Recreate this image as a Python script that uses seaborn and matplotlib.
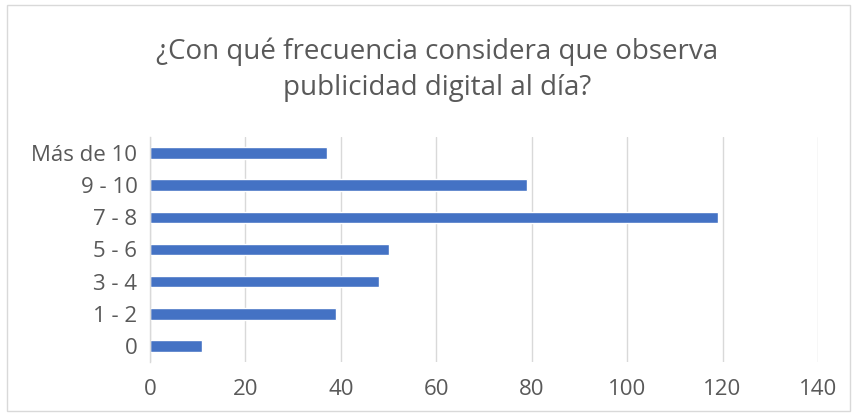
import matplotlib
matplotlib.use('Agg')
import matplotlib.pyplot as plt
import seaborn as sns
import pandas as pd
from matplotlib.patches import Rectangle

# data (top to bottom)
categories = ['Más de 10', '9 - 10', '7 - 8', '5 - 6', '3 - 4', '1 - 2', '0']
counts = [37, 79, 119, 50, 48, 39, 11]
x_ticks = [0, 20, 40, 60, 80, 100, 120, 140]

df = pd.DataFrame({'categoria': categories, 'cantidad': counts})

sns.set_style('white')
plt.rcParams['font.family'] = ['Open Sans', 'DejaVu Sans']

fig = plt.figure(figsize=(8.55, 4.16), dpi=100)
ax = fig.add_axes([0.1754, 0.1298, 0.7813, 0.5409])

sns.barplot(data=df, x='cantidad', y='categoria', order=categories,
            color='#4472C4', saturation=1, width=0.36, ax=ax, orient='h')

ax.set_xlim(0, 140)
ax.set_ylim(6.5, -0.5)
ax.set_xticks(x_ticks)
ax.set_xlabel('')
ax.set_ylabel('')
ax.xaxis.grid(True, color='#D9D9D9', linewidth=1)
ax.set_axisbelow(True)
for s in ['top', 'right', 'bottom']:
    ax.spines[s].set_visible(False)
ax.spines['left'].set_color('#D9D9D9')
ax.spines['left'].set_linewidth(1)
ax.tick_params(axis='both', length=0, colors='#595959', labelsize=16)
ax.tick_params(axis='x', pad=12)
ax.tick_params(axis='y', pad=9)

fig.text(0.511, 0.832, '¿Con qué frecuencia considera que observa\npublicidad digital al día?',
         ha='center', va='center', fontsize=20, color='#595959', linespacing=1.4)

# chart border
fig.patches.append(Rectangle((0.008, 0.012), 0.986, 0.976, transform=fig.transFigure,
                             fill=False, edgecolor='#D9D9D9', linewidth=1))

fig.savefig('out.png', dpi=100)
